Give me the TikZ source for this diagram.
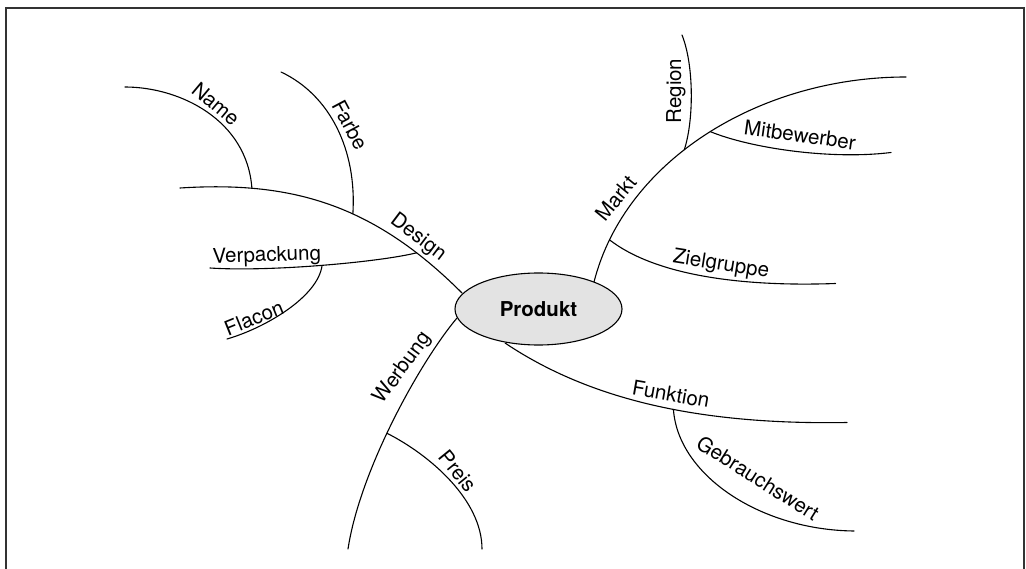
\documentclass[tikz,border=0pt]{standalone}
\usepackage{fontspec}
\setmainfont{TeX Gyre Heros}
\usetikzlibrary{shapes.geometric}
\begin{document}
\begin{tikzpicture}[x=1pt,y=-1pt,
  branch/.style={line width=1.1pt, line join=round, line cap=round},
  lbl/.style={font=\fontsize{20.5}{24}\selectfont, inner sep=0pt},
  hub/.style={ellipse, draw, line width=1.1pt, fill=gray!22, minimum width=167pt, minimum height=72pt, inner sep=0pt, font=\fontsize{20.5}{24}\selectfont\bfseries},
  frame/.style={draw=black!80, line width=2pt}]
\useasboundingbox (0,0) rectangle (1026,569);
% frame (bottom edge lies outside the picture)
\coordinate (fbl) at (5.5,580);
\coordinate (ftl) at (5.5,8);
\coordinate (ftr) at (1024,8);
\coordinate (fbr) at (1024,580);
\draw[frame] (fbl) -- (ftl) -- (ftr) -- (fbr);
% start points and free ends
\coordinate (dS) at (462,293);
\coordinate (dE) at (180,188);
\coordinate (nE) at (125,87);
\coordinate (fE) at (281,72);
\coordinate (vE) at (210,268);
\coordinate (flE) at (227,339);
\coordinate (wS) at (457,318);
\coordinate (wE) at (348,549);
\coordinate (pE) at (482,549);
\coordinate (mS) at (594,282);
\coordinate (mE) at (906,77);
\coordinate (rE) at (682,35);
\coordinate (mbE) at (891,152.5);
\coordinate (zE) at (835.5,283.5);
\coordinate (fuS) at (505,343);
\coordinate (fuE) at (847,422.5);
\coordinate (gE) at (854,531);
% main branches (junctions taken on the curves)
\draw[branch] (dS) .. controls (372,203) and (290,181) .. (dE)
  coordinate[pos=0.17] (dV) coordinate[pos=0.41] (dF) coordinate[pos=0.77] (dN);
\draw[branch] (wS) .. controls (420,362) and (360,470) .. (wE)
  coordinate[pos=0.55] (wP);
\draw[branch] (mS) .. controls (625,160) and (760,77) .. (mE)
  coordinate[pos=0.12] (mZ) coordinate[pos=0.43] (mR) coordinate[pos=0.51] (mM);
\draw[branch] (fuS) .. controls (590,400) and (700,425) .. (fuE)
  coordinate[pos=0.56] (fuG);
% sub-branches
\draw[branch] (dN) .. controls (247,120) and (180,87) .. (nE);
\draw[branch] (dF) .. controls (357,150) and (330,95) .. (fE);
\draw[branch] (dV) .. controls (380,262) and (270,272) .. (vE)
  coordinate[pos=0.5] (vF);
\draw[branch] (vF) .. controls (318,297) and (265,328) .. (flE);
\draw[branch] (wP) .. controls (430,455) and (482,500) .. (pE);
\draw[branch] (mR) .. controls (694,120) and (694,65) .. (rE);
\draw[branch] (mM) .. controls (750,148) and (830,160) .. (mbE);
\draw[branch] (mZ) .. controls (655,275) and (740,287) .. (zE);
\draw[branch] (fuG) .. controls (678,475) and (760,530) .. (gE);
% centre
\node[hub] (P) at (538.5,309) {Produkt};
% labels
\node[lbl, rotate=-40] (lName) at (216,104) {Name};
\node[lbl, rotate=-62] (lFarbe) at (350,125) {Farbe};
\node[lbl, rotate=-37] (lDesign) at (418,238) {Design};
\node[lbl, rotate=2, anchor=base] (lVerp) at (267,261.5) {Verpackung};
\node[lbl, rotate=22] (lFlacon) at (254,318) {Flacon};
\node[lbl, rotate=54] (lWerbung) at (403,368) {Werbung};
\node[lbl, rotate=-51] (lPreis) at (458,471) {Preis};
\node[lbl, rotate=51] (lMarkt) at (616,198) {Markt};
\node[lbl, rotate=90] (lRegion) at (676,91) {Region};
\node[lbl, rotate=-8] (lMitb) at (800,135) {Mitbewerber};
\node[lbl, rotate=-9] (lZiel) at (721,265) {Zielgruppe};
\node[lbl, rotate=-10] (lFunk) at (671,394) {Funktion};
\node[lbl, rotate=-32] (lGebr) at (758,478) {Gebrauchswert};
\end{tikzpicture}
\end{document}
